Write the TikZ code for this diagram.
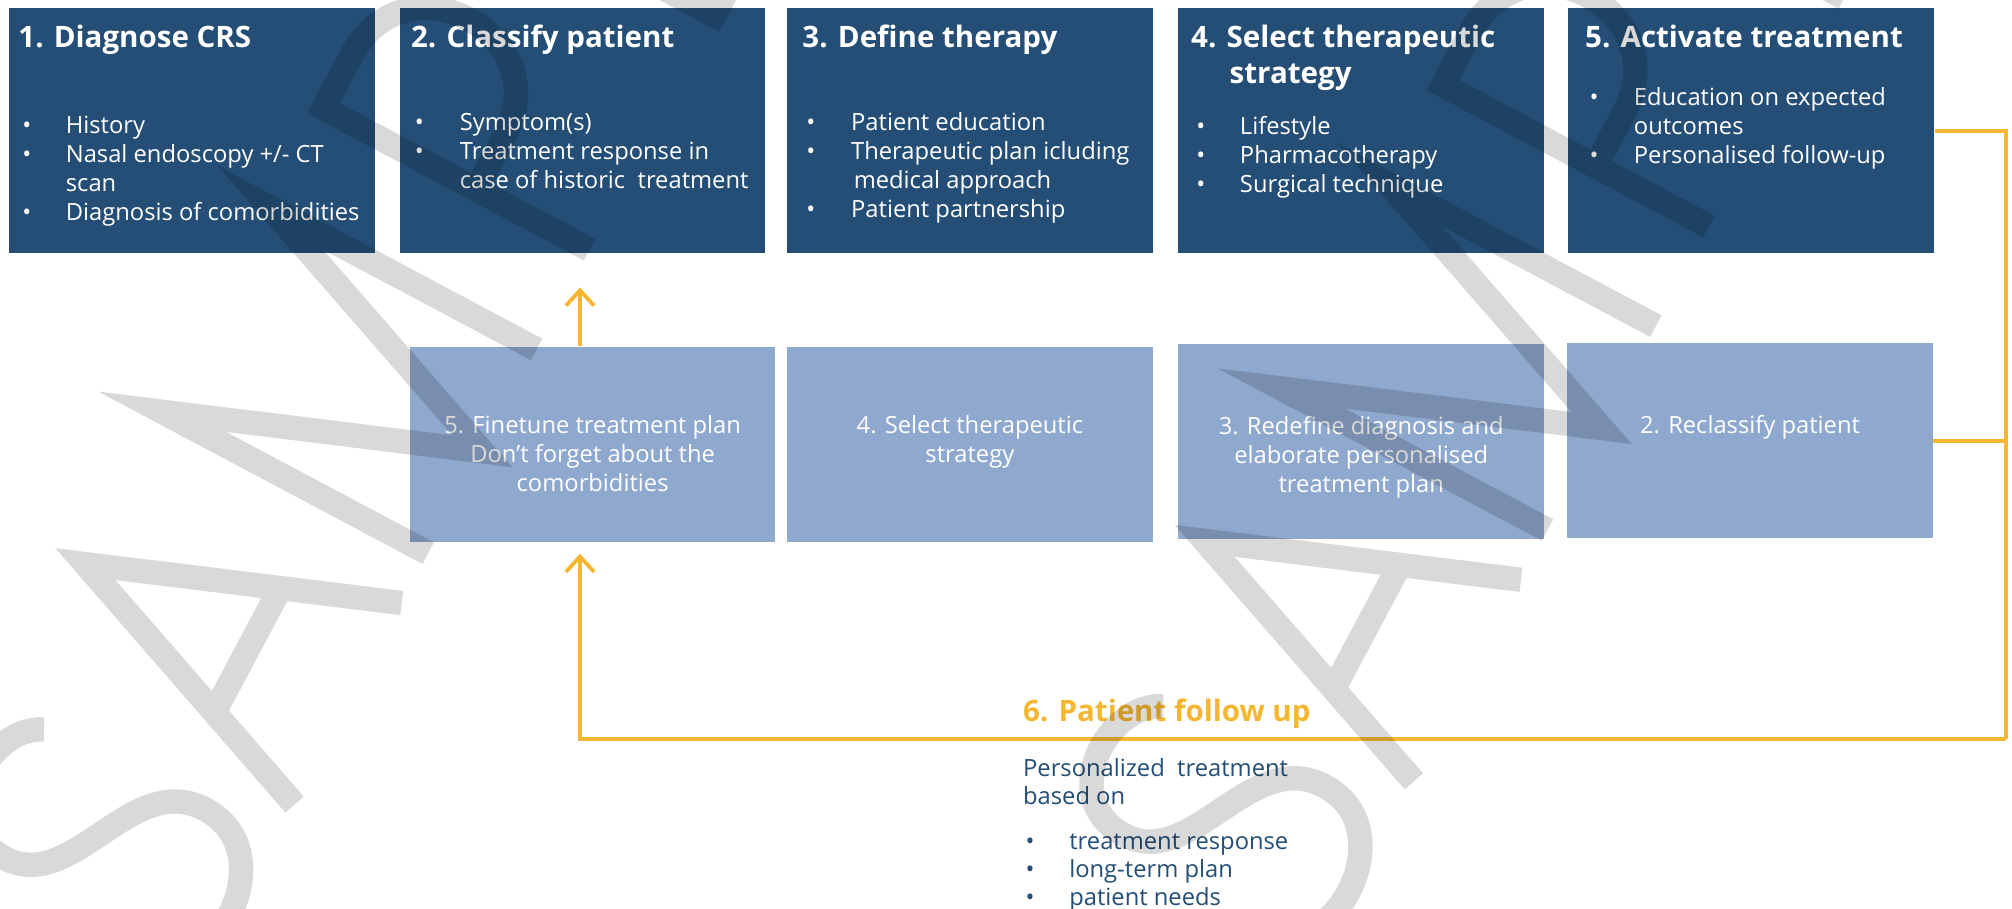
\documentclass[tikz,border=0pt]{standalone}
\usepackage{fontspec}
\setmainfont{Open Sans}
\usetikzlibrary{arrows.meta}

\newlength\px
\setlength\px{0.02cm}

\definecolor{darkbox}{RGB}{36,78,117}
\definecolor{lightbox}{RGB}{143,168,206}
\definecolor{followup}{RGB}{245,183,49}

\tikzset{
    topbox/.style={fill=darkbox, minimum width=285\px, minimum height=191\px, anchor=north west, inner sep=0pt},
    lowbox/.style={fill=lightbox, minimum width=285\px, minimum height=152\px, anchor=north west, inner sep=0pt},
    boxtitle/.style={anchor=base west, inner sep=0pt, text=white, font=\fontsize{23\px}{28\px}\selectfont\bfseries},
    boxlist/.style={anchor=base west, inner sep=0pt, text=white, font=\fontsize{18.5\px}{22.6\px}\selectfont},
    lowtext/.style={anchor=base, inner sep=0pt, text=white, font=\fontsize{18.5\px}{22.6\px}\selectfont},
    feedback/.style={draw=followup, line width=3\px},
    sample/.style={draw=black, draw opacity=0.15, line width=19\px, line join=miter},
}

\begin{document}
\begin{tikzpicture}[x=0.02cm, y=-0.02cm]
    \useasboundingbox[fill=white] (0,0) rectangle (1568,708.4);

    % top row
    \node[topbox] (diagnose) at (7,6) {};
    \node[topbox] (classify) at (311,6) {};
    \node[topbox] (define) at (613,6) {};
    \node[topbox] (select) at (918,6) {};
    \node[topbox] (activate) at (1222,6) {};

    \node[boxtitle] at ([shift={(7,31)}]diagnose.north west) {1. Diagnose CRS};
    \node[boxtitle] at ([shift={(9,31)}]classify.north west) {2. Classify patient};
    \node[boxtitle] at ([shift={(12,31)}]define.north west) {3. Define therapy};
    \node[boxtitle] at ([shift={(10,31)}]select.north west) {\begin{tabular}[t]{@{}l@{}}
        4. Select therapeutic\\
        \hspace*{30\px}strategy
    \end{tabular}};
    \node[boxtitle] at ([shift={(13,31)}]activate.north west) {5. Activate treatment};

    \node[boxlist] at ([shift={(10,98)}]diagnose.north west) {\begin{tabular}[t]{@{}p{34\px}@{}l@{}}
        \textbullet & History\\
        \textbullet & Nasal endoscopy +/- CT\\
        & scan\\
        \textbullet & Diagnosis of comorbidities
    \end{tabular}};
    \node[boxlist] at ([shift={(12,96)}]classify.north west) {\begin{tabular}[t]{@{}p{35\px}@{}l@{}}
        \textbullet & Symptom(s)\\
        \textbullet & Treatment response in\\
        & case of historic~ treatment
    \end{tabular}};
    \node[boxlist] at ([shift={(15,96)}]define.north west) {\begin{tabular}[t]{@{}p{35\px}@{}l@{}}
        \textbullet & Patient education\\
        \textbullet & Therapeutic plan icluding\\
        & \hspace*{2\px}medical approach\\
        \textbullet & Patient partnership
    \end{tabular}};
    \node[boxlist] at ([shift={(14,98.5)}]select.north west) {\begin{tabular}[t]{@{}p{34\px}@{}l@{}}
        \textbullet & Lifestyle\\
        \textbullet & Pharmacotherapy\\
        \textbullet & Surgical technique
    \end{tabular}};
    \node[boxlist] at ([shift={(16.5,76)}]activate.north west) {\begin{tabular}[t]{@{}p{34.5\px}@{}l@{}}
        \textbullet & Education on expected\\
        & outcomes\\
        \textbullet & Personalised follow-up
    \end{tabular}};

    % second row
    \node[lowbox] (finetune) at (319,270) {};
    \node[lowbox] (reselect) at (613,270) {};
    \node[lowbox] (redefine) at (918,268) {};
    \node[lowbox] (reclassify) at (1221,267) {};

    \node[lowtext] at ([shift={(0,68)}]finetune.north) {\begin{tabular}[t]{@{}c@{}}
        5. Finetune treatment plan\\
        Don’t forget about the\\
        comorbidities
    \end{tabular}};
    \node[lowtext] at ([shift={(0,68)}]reselect.north) {\begin{tabular}[t]{@{}c@{}}
        4. Select therapeutic\\
        strategy
    \end{tabular}};
    \node[lowtext] at ([shift={(0,71)}]redefine.north) {\begin{tabular}[t]{@{}c@{}}
        3. Redefine diagnosis and\\
        elaborate personalised\\
        treatment plan
    \end{tabular}};
    \node[lowtext] at ([shift={(0,70.5)}]reclassify.north) {2. Reclassify patient};

    % follow up
    \node[anchor=base west, inner sep=0pt, text=followup, font=\fontsize{23\px}{28\px}\selectfont\bfseries] (follow) at (797,562) {6. Patient follow up};
    \node[anchor=base west, inner sep=0pt, text=darkbox, font=\fontsize{18.5\px}{22\px}\selectfont] (based) at (797,605) {\begin{tabular}[t]{@{}l@{}}
        Personalized~ treatment\\
        based on
    \end{tabular}};
    \node[anchor=base west, inner sep=0pt, text=darkbox, font=\fontsize{18.5\px}{21.7\px}\selectfont] (needs) at (799,662) {\begin{tabular}[t]{@{}p{34\px}@{}l@{}}
        \textbullet & treatment response\\
        \textbullet & long-term plan\\
        \textbullet & patient needs
    \end{tabular}};

    % connectors
    \coordinate (turn) at (1563,576);
    \coordinate (low) at (452,431.5);
    \coordinate (up) at (452,224);
    \draw[feedback] (activate.east) -| (turn);
    \draw[feedback] (reclassify.east) -- (reclassify.east -| turn);
    \draw[feedback, -{Straight Barb[length=6.8pt, width=12.5pt]}] (turn) -| (low);
    \draw[feedback, -{Straight Barb[length=6.8pt, width=12.5pt]}] (up |- finetune.north) -- (up);

    % watermark, drawn letter by letter
    \foreach \ox/\oy in {333.7/431.1, 1206/413} {
        \begin{scope}[shift={(\ox,\oy)}, x={(0.00938cm,0.01766cm)}, y={(-0.01766cm,0.00938cm)}]
            \draw[sample] (-262,200) .. controls (-280,240) and (-365,240) .. (-365,180)
                .. controls (-365,120) and (-258,125) .. (-258,60)
                .. controls (-258,-5) and (-355,-10) .. (-372,30);
            \draw[sample] (-222,0) -- (-133,232) -- (-44,0) (-188,89) -- (-78,89);
            \draw[sample] (0,0) -- (0,235) -- (90,0) -- (180,235) -- (180,0);
            \draw[sample] (268,0) -- (268,235) -- (315,235) .. controls (405,235) and (405,100) .. (315,100) -- (268,100);
            \draw[sample] (475,235) -- (475,0) -- (575,0);
            \draw[sample] (735,235) -- (635,235) -- (635,0) -- (735,0) (635,118) -- (720,118);
        \end{scope}
    }
\end{tikzpicture}
\end{document}
